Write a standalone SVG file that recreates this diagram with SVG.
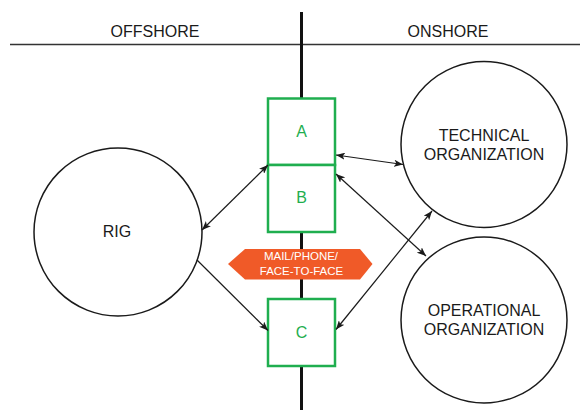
<svg xmlns="http://www.w3.org/2000/svg" width="580" height="410" viewBox="0 0 580 410">
<defs>
<marker id="ah" viewBox="0 0 10 8" refX="10" refY="4" markerWidth="9" markerHeight="7.2" markerUnits="userSpaceOnUse" orient="auto-start-reverse">
<path d="M0,0 L10,4 L0,8 L2.5,4 Z" fill="#1a1a1a"/>
</marker>
<style>
.t{font-family:"Liberation Sans",Arial,sans-serif;font-size:16px;fill:#1a1a1a;text-anchor:middle}
.g{font-family:"Liberation Sans",Arial,sans-serif;font-size:16px;fill:#1fae4f;text-anchor:middle}
.circ{fill:#fff;stroke:#1a1a1a;stroke-width:1.5}
.box{fill:#fff;stroke:#1fae4f;stroke-width:2.5}
.c{fill:none;stroke:#1a1a1a;stroke-width:1.2}
.w{font-family:"Liberation Sans",Arial,sans-serif;font-size:11.5px;fill:#fff;text-anchor:middle}
</style>
</defs>
<rect width="580" height="410" fill="#fff"/>
<g id="header">
<line x1="10" y1="44.5" x2="580" y2="44.5" stroke="#333" stroke-width="1.5"/>
<line x1="301.5" y1="12" x2="301.5" y2="410" stroke="#111" stroke-width="3"/>
<text class="t" x="155" y="36.5">OFFSHORE</text>
<text class="t" x="448" y="36.5">ONSHORE</text>
</g>
<g id="rig">
<circle class="circ" cx="118" cy="232" r="84"/>
<text class="t" x="117" y="237">RIG</text>
</g>
<g id="technical">
<circle class="circ" cx="484" cy="144.5" r="83"/>
<text class="t" x="484" y="141">TECHNICAL</text>
<text class="t" x="484" y="159.5">ORGANIZATION</text>
</g>
<g id="operational">
<circle class="circ" cx="484" cy="320" r="83"/>
<text class="t" x="484" y="316">OPERATIONAL</text>
<text class="t" x="484" y="335">ORGANIZATION</text>
</g>
<g id="medium">
<polygon points="228,264 245,249 360,249 372.5,264 360,279.5 245,279.5" fill="#f05a28"/>
<text class="w" x="301" y="260">MAIL/PHONE/</text>
<text class="w" x="301.5" y="274.5">FACE-TO-FACE</text>
</g>
<g id="A">
<rect class="box" x="268" y="98.5" width="67" height="66.5"/>
<text class="g" x="301.5" y="136.7">A</text>
</g>
<g id="B">
<rect class="box" x="268" y="165" width="67" height="67"/>
<text class="g" x="301.5" y="203.3">B</text>
</g>
<g id="C">
<rect class="box" x="268" y="299" width="67" height="67"/>
<text class="g" x="301.5" y="337.7">C</text>
</g>
<g id="connectors">
<line class="c" x1="202" y1="230" x2="268" y2="165" marker-start="url(#ah)" marker-end="url(#ah)"/>
<line class="c" x1="336" y1="155" x2="403" y2="164.5" marker-start="url(#ah)" marker-end="url(#ah)"/>
<line class="c" x1="336" y1="174" x2="426" y2="256" marker-start="url(#ah)" marker-end="url(#ah)"/>
<line class="c" x1="197" y1="260" x2="268" y2="330.5" marker-end="url(#ah)"/>
<line class="c" x1="432" y1="211" x2="336" y2="329.5" marker-start="url(#ah)" marker-end="url(#ah)"/>
</g>
</svg>
